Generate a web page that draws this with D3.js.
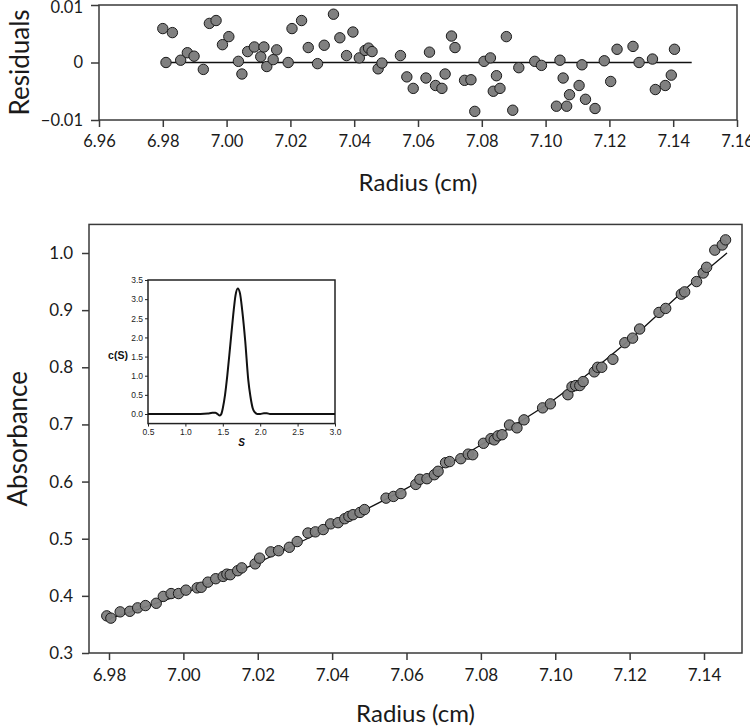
<!DOCTYPE html>
<html><head><meta charset="utf-8">
<script src="https://cdn.jsdelivr.net/npm/d3@7"></script>
<style>body{margin:0;background:#fff}svg{display:block}</style>
</head><body>
<script>
// ---------- data ----------
const resRadius = [6.9800,6.9810,6.9830,6.9856,6.9877,6.9898,6.9927,6.9946,6.9967,6.9987,
 7.0007,7.0037,7.0048,7.0066,7.0087,7.0107,7.0117,7.0126,7.0146,7.0157,
 7.0193,7.0205,7.0235,7.0256,7.0285,7.0306,7.0335,7.0355,7.0376,7.0396,
 7.0416,7.0434,7.0445,7.0456,7.0475,7.0487,7.0545,7.0565,7.0585,7.0625,
 7.0636,7.0655,7.0675,7.0685,7.0705,7.0716,7.0746,7.0766,7.0778,7.0807,
 7.0827,7.0836,7.0846,7.0857,7.0877,7.0897,7.0916,7.0966,7.0987,7.1034,
 7.1045,7.1055,7.1066,7.1075,7.1105,7.1114,7.1125,7.1155,7.1184,7.1204,
 7.1224,7.1274,7.1293,7.1335,7.1344,7.1375,7.1394,7.1404];
const resValue = [0.0059,0.0000,0.0052,0.0004,0.0017,0.0011,-0.0012,0.0068,0.0073,0.0031,
 0.0045,0.0002,-0.0020,0.0019,0.0027,0.0010,0.0027,-0.0007,0.0005,0.0022,
 0.0000,0.0059,0.0073,0.0026,-0.0002,0.0030,0.0084,0.0043,0.0012,0.0053,
 0.0008,0.0021,0.0025,0.0019,-0.0011,-0.0001,0.0012,-0.0025,-0.0045,-0.0027,
 0.0018,-0.0040,-0.0045,-0.0020,0.0046,0.0026,-0.0031,-0.0030,-0.0085,0.0002,
 0.0008,-0.0050,-0.0023,-0.0045,0.0045,-0.0083,-0.0009,0.0002,-0.0005,-0.0076,
 0.0004,-0.0027,-0.0076,-0.0056,-0.0040,-0.0004,-0.0064,-0.0080,0.0003,-0.0033,
 0.0023,0.0028,0.0000,0.0006,-0.0047,-0.0040,-0.0022,0.0023];

const absRadius = [6.9794,6.9805,6.9830,6.9856,6.9877,6.9898,6.9927,6.9946,6.9967,6.9987,
 7.0007,7.0037,7.0048,7.0066,7.0087,7.0107,7.0117,7.0126,7.0146,7.0157,
 7.0193,7.0205,7.0235,7.0256,7.0285,7.0306,7.0335,7.0355,7.0376,7.0396,
 7.0416,7.0434,7.0445,7.0456,7.0475,7.0487,7.0545,7.0565,7.0585,7.0625,
 7.0636,7.0655,7.0675,7.0685,7.0705,7.0716,7.0746,7.0766,7.0778,7.0807,
 7.0827,7.0836,7.0846,7.0857,7.0877,7.0897,7.0916,7.0966,7.0987,7.1034,
 7.1045,7.1055,7.1066,7.1075,7.1105,7.1114,7.1125,7.1155,7.1187,7.1208,
 7.1227,7.1279,7.1297,7.1339,7.1348,7.1380,7.1398,7.1407,7.1429,7.1449,7.1458];
const absValue = [0.365,0.361,0.372,0.373,0.379,0.383,0.387,0.399,0.404,0.404,
 0.410,0.414,0.415,0.424,0.430,0.434,0.438,0.437,0.444,0.449,
 0.456,0.466,0.477,0.479,0.485,0.495,0.510,0.512,0.516,0.526,
 0.528,0.535,0.539,0.542,0.546,0.551,0.571,0.574,0.579,0.595,
 0.604,0.605,0.612,0.618,0.633,0.635,0.640,0.648,0.647,0.667,
 0.675,0.673,0.680,0.682,0.699,0.694,0.708,0.729,0.736,0.752,
 0.766,0.768,0.768,0.775,0.792,0.800,0.800,0.814,0.843,0.851,
 0.867,0.896,0.903,0.928,0.932,0.950,0.965,0.975,1.005,1.014,1.023];

const fitRadius = [6.980,7.000,7.020,7.040,7.060,7.080,7.100,7.120,7.140,7.1462];
const fitValue  = [0.360,0.404,0.458,0.522,0.588,0.664,0.745,0.848,0.966,1.000];

const insetS = [0.5,1.0,1.2,1.30,1.36,1.40,1.43,1.46,1.48,1.50,1.53,1.56,1.60,1.64,1.67,1.70,
 1.73,1.76,1.80,1.84,1.87,1.90,1.93,1.96,2.00,2.05,2.09,2.13,2.5,3.0];
const insetC = [0,0,0,0.01,0.03,0.03,0.0,-0.04,0.0,0.15,0.5,1.0,1.8,2.6,3.1,3.28,
 3.15,2.7,1.9,0.9,0.45,0.15,0.04,0.0,0.0,0.02,0.02,0.0,0,0];

const resTicksX = [6.96,6.98,7.00,7.02,7.04,7.06,7.08,7.10,7.12,7.14,7.16];
const resTicksY = [-0.01,0,0.01];
const absTicksX = [6.98,7.00,7.02,7.04,7.06,7.08,7.10,7.12,7.14];
const absTicksY = [0.3,0.4,0.5,0.6,0.7,0.8,0.9,1.0];
const insetTicksX = [0.5,1.0,1.5,2.0,2.5,3.0];
const insetTicksY = [0.0,0.5,1.0,1.5,2.0,2.5,3.0,3.5];

// ---------- drawing ----------
const svg = d3.select("body").append("svg").attr("width",750).attr("height",728);
const FONT = "Lato, 'Open Sans', sans-serif";
const frameCol = "#3a3a3a";
const ptFill = "#808080", ptStroke = "#1a1a1a";

function styleAxis(g, size){
  g.select(".domain").remove();
  g.selectAll(".tick line").attr("stroke", frameCol).attr("stroke-width",1.5);
  g.selectAll(".tick text").attr("font-family",FONT).attr("font-size",size).attr("fill","#1a1a1a");
}

// ===== Residuals panel =====
{
  const L=99,R=737,T=5,B=120;
  const x = d3.scaleLinear().domain([6.96,7.16]).range([L,R]);
  const y = d3.scaleLinear().domain([-0.01,0.01]).range([B,T]);
  const gx = svg.append("g").attr("transform",`translate(0,${B})`)
    .call(d3.axisBottom(x).tickValues(resTicksX).tickFormat(d3.format(".2f")).tickSize(7).tickPadding(8));
  styleAxis(gx,16.5);
  const gy = svg.append("g").attr("transform",`translate(${L},0)`)
    .call(d3.axisLeft(y).tickValues(resTicksY).tickFormat(d=>d===0?"0":d3.format(".2f")(d)).tickSize(8).tickPadding(8));
  styleAxis(gy,16.5);
  gy.selectAll(".tick text").filter(d=>d===0.01).attr("dy","0.45em");
  svg.append("rect").attr("x",L).attr("y",T).attr("width",R-L).attr("height",B-T)
    .attr("fill","none").attr("stroke",frameCol).attr("stroke-width",1.5);
  svg.append("line").attr("x1",x(6.98)).attr("x2",x(7.1458)).attr("y1",y(0)).attr("y2",y(0))
    .attr("stroke","#111").attr("stroke-width",1.3);
  svg.append("g").selectAll("circle").data(resRadius).join("circle")
    .attr("cx",d=>x(d)).attr("cy",(d,i)=>y(resValue[i])).attr("r",5.2)
    .attr("fill",ptFill).attr("stroke",ptStroke).attr("stroke-width",1);
  svg.append("text").attr("x",(L+R)/2).attr("y",191).attr("text-anchor","middle")
    .attr("font-family",FONT).attr("font-size",24).attr("fill","#1a1a1a").text("Radius (cm)");
  svg.append("text").attr("transform",`translate(29,${(T+B)/2}) rotate(-90)`).attr("text-anchor","middle")
    .attr("font-family",FONT).attr("font-size",26).attr("fill","#1a1a1a").text("Residuals");
}

// ===== Absorbance panel =====
{
  const L=89,R=742,B=653;
  const x = d3.scaleLinear().domain([6.98,7.14]).range([109,704]);
  const y = d3.scaleLinear().domain([0.3,1.0]).range([B,253]);
  const T = y(1.05);
  const gx = svg.append("g").attr("transform",`translate(0,${B})`)
    .call(d3.axisBottom(x).tickValues(absTicksX).tickFormat(d3.format(".2f")).tickSize(7).tickPadding(9));
  styleAxis(gx,17);
  const gy = svg.append("g").attr("transform",`translate(${L},0)`)
    .call(d3.axisLeft(y).tickValues(absTicksY).tickFormat(d3.format(".1f")).tickSize(7).tickPadding(9));
  styleAxis(gy,17);
  svg.append("rect").attr("x",L).attr("y",T).attr("width",R-L).attr("height",B-T)
    .attr("fill","none").attr("stroke",frameCol).attr("stroke-width",1.5);
  const line = d3.line().x((d,i)=>x(fitRadius[i])).y((d,i)=>y(fitValue[i])).curve(d3.curveMonotoneX);
  svg.append("path").attr("d",line(fitRadius)).attr("fill","none").attr("stroke","#111").attr("stroke-width",1.3);
  svg.append("g").selectAll("circle").data(absRadius).join("circle")
    .attr("cx",d=>x(d)).attr("cy",(d,i)=>y(absValue[i])).attr("r",5.2)
    .attr("fill",ptFill).attr("stroke",ptStroke).attr("stroke-width",1).attr("fill-opacity",0.95);
  svg.append("text").attr("x",(L+R)/2).attr("y",722).attr("text-anchor","middle")
    .attr("font-family",FONT).attr("font-size",24).attr("fill","#1a1a1a").text("Radius (cm)");
  svg.append("text").attr("transform",`translate(27,${(T+B)/2}) rotate(-90)`).attr("text-anchor","middle")
    .attr("font-family",FONT).attr("font-size",26).attr("fill","#1a1a1a").text("Absorbance");
}

// ===== Inset =====
{
  const IF = "'Liberation Sans', Arial, sans-serif";
  const x = d3.scaleLinear().domain([0.5,3.0]).range([148,335]);
  const y = d3.scaleLinear().domain([0,3.5]).range([414,280]);
  const B = y(-0.25), T = y(3.5), L = x(0.5), R = x(3.0);
  svg.append("rect").attr("x",L).attr("y",T).attr("width",R-L).attr("height",B-T)
    .attr("fill","#fff").attr("stroke","#222").attr("stroke-width",1.5);
  const gx = svg.append("g").attr("transform",`translate(0,${B})`)
    .call(d3.axisBottom(x).tickValues(insetTicksX).tickFormat(d3.format(".1f")).tickSize(3).tickPadding(2));
  gx.select(".domain").remove();
  gx.selectAll(".tick line").attr("stroke","#222");
  gx.selectAll(".tick text").attr("font-family",IF).attr("font-size",8.5).attr("fill","#222");
  const gy = svg.append("g").attr("transform",`translate(${L},0)`)
    .call(d3.axisLeft(y).tickValues(insetTicksY).tickFormat(d3.format(".1f")).tickSize(3).tickPadding(2));
  gy.select(".domain").remove();
  gy.selectAll(".tick line").attr("stroke","#222");
  gy.selectAll(".tick text").attr("font-family",IF).attr("font-size",8.5).attr("fill","#222");
  const line = d3.line().x((d,i)=>x(insetS[i])).y((d,i)=>y(insetC[i])).curve(d3.curveMonotoneX);
  svg.append("path").attr("d",line(insetS)).attr("fill","none").attr("stroke","#111").attr("stroke-width",2);
  svg.append("text").attr("x",118).attr("y",359).attr("text-anchor","middle")
    .attr("font-family",IF).attr("font-weight","bold").attr("font-size",10.5).attr("fill","#111").text("c(S)");
  svg.append("text").attr("x",(L+R)/2).attr("y",B+22).attr("text-anchor","middle")
    .attr("font-family",IF).attr("font-weight","bold").attr("font-style","italic").attr("font-size",10).attr("fill","#111").text("S");
}
</script>
</body></html>
